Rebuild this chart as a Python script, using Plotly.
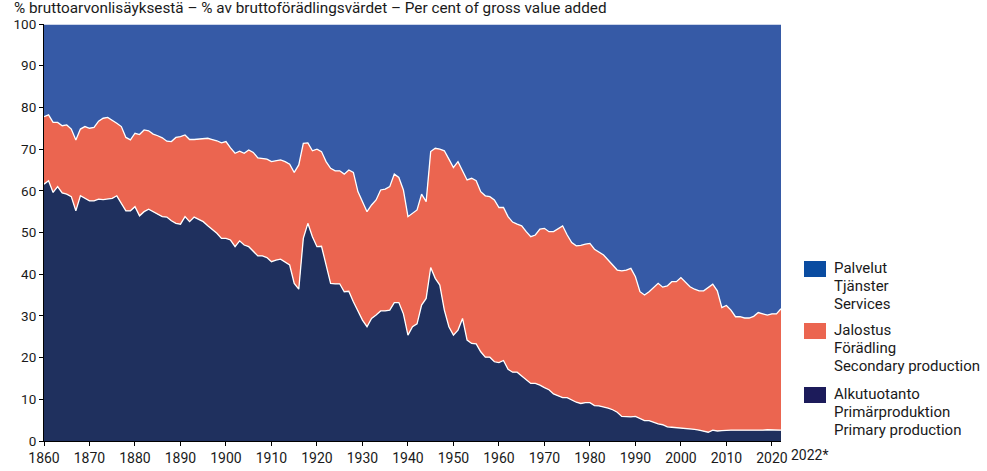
import plotly.graph_objects as go

years = list(range(1860, 2023))

# Alkutuotanto / Primärproduktion / Primary production (%)
primary = [
    61.6, 62.4, 59.6, 61.0, 59.5, 59.2, 58.6, 55.2, 58.8, 58.2,
    57.6, 57.6, 58.0, 57.9, 58.0, 58.2, 58.8, 57.0, 55.2, 55.2,
    56.2, 54.0, 55.0, 55.6, 55.0, 54.4, 53.8, 53.7, 52.8, 52.2,
    52.0, 53.8, 52.6, 53.7, 53.2, 52.6, 51.6, 50.8, 49.8, 48.6,
    48.6, 48.2, 46.6, 48.0, 47.0, 46.6, 45.4, 44.4, 44.4, 44.0,
    43.0, 43.4, 43.6, 43.0, 42.2, 37.8, 36.4, 48.6, 52.2, 49.0,
    46.6, 46.7, 42.2, 37.8, 37.7, 37.7, 35.8, 35.9, 33.4, 31.0,
    29.0, 27.4, 29.4, 30.2, 31.2, 31.2, 31.4, 33.2, 33.2, 30.5,
    25.4, 27.4, 28.1, 32.6, 34.2, 41.6, 39.0, 37.4, 31.4, 27.4,
    25.4, 26.6, 29.4, 24.2, 23.4, 23.3, 21.4, 20.1, 20.1, 19.0,
    18.8, 19.3, 17.2, 16.5, 16.5, 15.6, 14.6, 13.8, 13.8, 13.4,
    12.8, 12.3, 11.3, 10.8, 10.4, 10.4, 9.9, 9.3, 9.0, 9.2,
    9.2, 8.5, 8.4, 8.2, 7.9, 7.5, 6.9, 5.9, 5.8, 5.8,
    5.9, 5.4, 4.9, 4.9, 4.5, 4.1, 3.9, 3.4, 3.3, 3.2,
    3.2, 3.0, 2.9, 2.8, 2.6, 2.4, 2.1, 2.6, 2.4, 2.5,
    2.6, 2.6, 2.6, 2.6, 2.6, 2.5, 2.5, 2.6, 2.6, 2.7,
    2.7, 2.6, 2.6,
]

# Jalostus / Förädling / Secondary production (%)
secondary = [
    16.2, 15.8, 16.8, 15.4, 16.1, 16.6, 16.2, 17.0, 16.0, 17.2,
    17.4, 17.6, 18.7, 19.5, 19.6, 18.8, 17.4, 18.4, 17.6, 17.0,
    17.6, 19.5, 19.6, 18.8, 18.6, 18.8, 18.9, 18.2, 19.0, 20.6,
    21.0, 19.6, 19.7, 18.6, 19.2, 20.0, 21.0, 21.5, 22.2, 22.9,
    23.2, 22.1, 22.4, 21.5, 22.0, 23.2, 23.8, 23.5, 23.3, 23.6,
    24.0, 23.8, 23.8, 24.0, 24.2, 26.6, 29.8, 22.8, 19.3, 20.6,
    23.4, 22.7, 24.8, 27.6, 27.1, 27.1, 28.2, 29.1, 31.0, 28.8,
    28.2, 27.6, 27.2, 27.6, 29.0, 29.2, 29.6, 30.8, 30.0, 29.7,
    28.4, 27.2, 27.3, 26.6, 23.2, 27.8, 31.2, 32.6, 38.2, 40.2,
    40.2, 40.4, 35.4, 38.4, 39.6, 39.1, 38.4, 38.7, 38.5, 38.8,
    37.2, 36.7, 36.6, 36.0, 35.5, 36.0, 35.6, 35.2, 35.6, 37.4,
    38.2, 37.9, 38.9, 40.0, 41.2, 39.0, 37.7, 37.5, 37.9, 38.0,
    38.2, 37.5, 37.0, 36.4, 35.5, 34.7, 34.1, 34.9, 35.2, 35.6,
    33.5, 30.4, 30.1, 30.9, 32.4, 33.7, 33.0, 33.8, 34.9, 35.0,
    36.0, 35.0, 34.1, 33.6, 33.4, 33.6, 34.8, 35.0, 33.6, 29.5,
    29.9, 28.8, 27.2, 27.2, 26.9, 27.0, 27.4, 28.2, 27.9, 27.5,
    27.8, 27.9, 29.1,
]

# Palvelut / Tjänster / Services (%)
services = [
    22.2, 21.8, 23.6, 23.6, 24.4, 24.2, 25.2, 27.8, 25.2, 24.6,
    25.0, 24.8, 23.3, 22.6, 22.4, 23.0, 23.8, 24.6, 27.2, 27.8,
    26.2, 26.5, 25.4, 25.6, 26.4, 26.8, 27.3, 28.1, 28.2, 27.2,
    27.0, 26.6, 27.7, 27.7, 27.6, 27.4, 27.4, 27.7, 28.0, 28.5,
    28.2, 29.7, 31.0, 30.5, 31.0, 30.2, 30.8, 32.1, 32.3, 32.4,
    33.0, 32.8, 32.6, 33.0, 33.6, 35.6, 33.8, 28.6, 28.5, 30.4,
    30.0, 30.6, 33.0, 34.6, 35.2, 35.2, 36.0, 35.0, 35.6, 40.2,
    42.8, 45.0, 43.4, 42.2, 39.8, 39.6, 39.0, 36.0, 36.8, 39.8,
    46.2, 45.4, 44.6, 40.8, 42.6, 30.6, 29.8, 30.0, 30.4, 32.4,
    34.4, 33.0, 35.2, 37.4, 37.0, 37.6, 40.2, 41.2, 41.4, 42.2,
    44.0, 44.0, 46.2, 47.5, 48.0, 48.4, 49.8, 51.0, 50.6, 49.2,
    49.0, 49.8, 49.8, 49.2, 48.4, 50.6, 52.4, 53.2, 53.1, 52.8,
    52.6, 54.0, 54.6, 55.4, 56.6, 57.8, 59.0, 59.2, 59.0, 58.6,
    60.6, 64.2, 65.0, 64.2, 63.1, 62.2, 63.1, 62.8, 61.8, 61.8,
    60.8, 62.0, 63.0, 63.6, 64.0, 64.0, 63.1, 62.4, 64.0, 68.0,
    67.5, 68.6, 70.2, 70.2, 70.5, 70.5, 70.1, 69.2, 69.5, 69.8,
    69.5, 69.5, 68.3,
]

x_ticks = list(range(1860, 2021, 10))
y_ticks = list(range(0, 101, 10))

title_text = "% bruttoarvonlisäyksestä – % av bruttoförädlingsvärdet – Per cent of gross value added"
legend_entries = [
    (["Palvelut", "Tjänster", "Services"], "#0a4ca1"),
    (["Jalostus", "Förädling", "Secondary production"], "#eb6550"),
    (["Alkutuotanto", "Primärproduktion", "Primary production"], "#1c1b5a"),
]

FONT = "Roboto, Arial, sans-serif"
TXT = "#1a1a1a"

fig = go.Figure()
for name, vals, col in [
    ("Primary production", primary, "#1f305e"),
    ("Secondary production", secondary, "#eb6550"),
    ("Services", services, "#365aa6"),
]:
    fig.add_trace(go.Scatter(
        x=years, y=vals, name=name, mode="lines", stackgroup="one",
        line=dict(color="white", width=1.3), fillcolor=col,
        hoverinfo="x+y+name",
    ))

W, H = 987, 471
ml, mr, mt, mb = 44, 206, 24, 30
pw, ph = W - ml - mr, H - mt - mb

def px_x(p):
    return (p - ml) / pw

def px_y(p):
    return (H - mb - p) / ph

shapes = []
annotations = []
sq_tops = [261, 323, 387]
line_centers = [[268, 286, 304], [330, 348, 366], [394, 412, 430]]
for (lines, col), top, centers in zip(legend_entries, sq_tops, line_centers):
    shapes.append(dict(type="rect", xref="paper", yref="paper",
                       x0=px_x(804), x1=px_x(826), y0=px_y(top + 16), y1=px_y(top),
                       fillcolor=col, line=dict(width=0)))
    for txt, cy in zip(lines, centers):
        annotations.append(dict(text=txt, xref="paper", yref="paper",
                                x=px_x(832), y=px_y(cy), xanchor="left", yanchor="middle",
                                showarrow=False, font=dict(family=FONT, size=15, color=TXT)))

annotations.append(dict(text="2022*", xref="paper", yref="paper", x=px_x(810), y=0,
                        xanchor="center", yanchor="top", yshift=-4, showarrow=False,
                        font=dict(family=FONT, size=14, color=TXT)))
annotations.append(dict(text=title_text, xref="paper", yref="paper", x=px_x(13), y=px_y(8),
                        xanchor="left", yanchor="middle", showarrow=False, borderpad=0,
                        font=dict(family=FONT, size=15.3, color=TXT)))

fig.update_layout(
    width=W, height=H,
    margin=dict(l=ml, r=mr, t=mt, b=mb, autoexpand=False),
    paper_bgcolor="white", plot_bgcolor="white",
    showlegend=False,
    font=dict(family=FONT, size=14, color=TXT),
    shapes=shapes, annotations=annotations,
    xaxis=dict(range=[1860, 2022], tickvals=x_ticks, ticktext=[str(t) for t in x_ticks],
               showgrid=False, zeroline=False, showline=True, linecolor="black", linewidth=1,
               ticks="outside", ticklen=4, tickcolor="black", tickfont=dict(size=14),
               automargin=False),
    yaxis=dict(range=[0, 100], tickvals=y_ticks, showgrid=False, zeroline=False,
               showline=True, linecolor="black", linewidth=1, ticks="outside", ticklen=4,
               tickcolor="black", tickfont=dict(size=13.5), automargin=False),
)

fig.write_html("out.html", config={"displayModeBar": False},
               post_script="document.body.style.margin='0';document.body.style.overflow='hidden';")
